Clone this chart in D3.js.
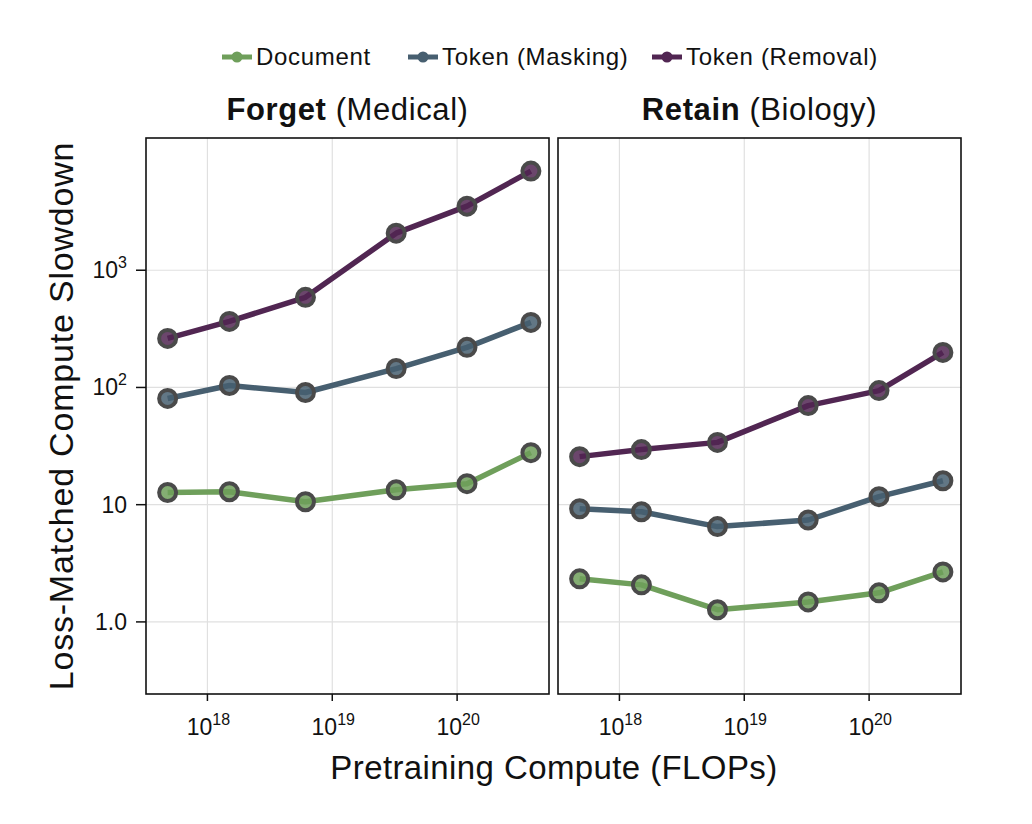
<!DOCTYPE html>
<html>
<head>
<meta charset="utf-8">
<script src="https://cdn.jsdelivr.net/npm/d3@7"></script>
<style>
  body { margin: 0; background: #fff; }
  text { font-family: "Liberation Sans", Arial, sans-serif; fill: #111; }
</style>
</head>
<body>
<svg id="chart" width="1032" height="824"></svg>
<script>
// compute budgets (FLOPs), same for both panels
var computeValues = [4.8e17, 1.5e18, 6.1e18, 3.25e19, 1.2e20, 3.9e20];

var seriesNames = ["Document", "Token (Masking)", "Token (Removal)"];
var seriesColors = ["#6f9f5b", "#475f70", "#512652"];

// Forget (Medical)
var forgetDocument = [12.7, 12.9, 10.6, 13.4, 15.1, 27.8];
var forgetMasking = [80.6, 104, 90.6, 145, 220, 359];
var forgetRemoval = [262, 366, 587, 2070, 3520, 7010];

// Retain (Biology)
var retainDocument = [2.33, 2.07, 1.27, 1.48, 1.77, 2.67];
var retainMasking = [9.24, 8.7, 6.5, 7.4, 11.7, 16.0];
var retainRemoval = [25.7, 29.5, 34.0, 70, 94, 199];

var xTicks = [1e18, 1e19, 1e20];
var xTickExp = ["18", "19", "20"];
var yTicks = [1, 10, 100, 1000];
var yTickLabels = [["1.0", ""], ["10", ""], ["10", "2"], ["10", "3"]];

var panels = [
    { bold: "Forget", rest: " (Medical)", series: [forgetDocument, forgetMasking, forgetRemoval], left: 146 },
    { bold: "Retain", rest: " (Biology)", series: [retainDocument, retainMasking, retainRemoval], left: 558 }
];

var panelWidth = 403;
var plotTop = 138, plotBottom = 694;

var svg = d3.select("#chart");

var yScale = d3.scaleLog()
    .domain([Math.pow(10, -0.615), Math.pow(10, 4.128)])
    .range([plotBottom, plotTop]);

panels.forEach(function (p, pi) {
    var xScale = d3.scaleLog()
        .domain([Math.pow(10, 17.508), Math.pow(10, 20.736)])
        .range([p.left, p.left + panelWidth]);

    var g = svg.append("g");

    // gridlines
    g.selectAll(".xgrid").data(xTicks).enter().append("line")
        .attr("x1", function (d) { return xScale(d); })
        .attr("x2", function (d) { return xScale(d); })
        .attr("y1", plotTop).attr("y2", plotBottom)
        .attr("stroke", "#e0e0e0").attr("stroke-width", 1.2);
    g.selectAll(".ygrid").data(yTicks).enter().append("line")
        .attr("x1", p.left).attr("x2", p.left + panelWidth)
        .attr("y1", function (d) { return yScale(d); })
        .attr("y2", function (d) { return yScale(d); })
        .attr("stroke", "#e0e0e0").attr("stroke-width", 1.2);

    // x ticks
    g.selectAll(".xtick").data(xTicks).enter().append("line")
        .attr("x1", function (d) { return xScale(d); })
        .attr("x2", function (d) { return xScale(d); })
        .attr("y1", plotBottom).attr("y2", plotBottom + 7)
        .attr("stroke", "#111").attr("stroke-width", 1.5);
    var xl = g.selectAll(".xlabel").data(xTicks).enter().append("text")
        .attr("x", function (d) { return xScale(d) + 1; })
        .attr("y", 735)
        .attr("text-anchor", "middle")
        .style("font-size", "23px");
    xl.append("tspan").text("10");
    xl.append("tspan").attr("dy", -10).style("font-size", "16px")
        .text(function (d, i) { return xTickExp[i]; });

    // y ticks only on left panel
    if (pi === 0) {
        g.selectAll(".ytick").data(yTicks).enter().append("line")
            .attr("x1", p.left - 10).attr("x2", p.left)
            .attr("y1", function (d) { return yScale(d); })
            .attr("y2", function (d) { return yScale(d); })
            .attr("stroke", "#111").attr("stroke-width", 1.5);
        var yl = g.selectAll(".ylabel").data(yTicks).enter().append("text")
            .attr("x", p.left - 19)
            .attr("y", function (d) { return yScale(d) + 8; })
            .attr("text-anchor", "end")
            .style("font-size", "23px");
        yl.append("tspan").text(function (d, i) { return yTickLabels[i][0]; });
        yl.append("tspan").attr("dy", -10).style("font-size", "16px")
            .text(function (d, i) { return yTickLabels[i][1]; });
    }

    // lines + markers
    var line = d3.line()
        .x(function (d, i) { return xScale(computeValues[i]); })
        .y(function (d) { return yScale(d); });

    p.series.forEach(function (vals, si) {
        g.append("path")
            .attr("d", line(vals))
            .attr("fill", "none")
            .attr("stroke", seriesColors[si])
            .attr("stroke-width", 5.5)
            .attr("stroke-linejoin", "round");
    });
    p.series.forEach(function (vals, si) {
        g.selectAll(".pt" + si).data(vals).enter().append("circle")
            .attr("cx", function (d, i) { return xScale(computeValues[i]); })
            .attr("cy", function (d) { return yScale(d); })
            .attr("r", 8.5)
            .attr("fill", seriesColors[si])
            .attr("fill-opacity", 0.85)
            .attr("stroke", "#4a4a4a")
            .attr("stroke-width", 4);
    });

    // frame
    g.append("rect")
        .attr("x", p.left).attr("y", plotTop)
        .attr("width", panelWidth).attr("height", plotBottom - plotTop)
        .attr("fill", "none").attr("stroke", "#111").attr("stroke-width", 1.6);

    // title
    var t = g.append("text")
        .attr("x", p.left + panelWidth / 2)
        .attr("y", 120)
        .attr("text-anchor", "middle")
        .style("font-size", "31px")
        .style("letter-spacing", "0.6px");
    t.append("tspan").style("font-weight", "bold").text(p.bold);
    t.append("tspan").text(p.rest);
});

// axis titles
svg.append("text")
    .attr("transform", "translate(73," + ((plotTop + plotBottom) / 2) + ") rotate(-90)")
    .attr("text-anchor", "middle")
    .style("font-size", "34px")
    .style("letter-spacing", "0.8px")
    .text("Loss-Matched Compute Slowdown");

svg.append("text")
    .attr("x", 554).attr("y", 779)
    .attr("text-anchor", "middle")
    .style("font-size", "33px")
    .style("letter-spacing", "0.4px")
    .text("Pretraining Compute (FLOPs)");

// legend
var legendX = [222, 408, 652];
var legend = svg.selectAll(".legend").data(seriesNames).enter().append("g")
    .attr("transform", function (d, i) { return "translate(" + legendX[i] + ",57)"; });
legend.append("line")
    .attr("x1", 0).attr("x2", 30).attr("y1", 0).attr("y2", 0)
    .attr("stroke", function (d, i) { return seriesColors[i]; })
    .attr("stroke-width", 5);
legend.append("circle")
    .attr("cx", 15).attr("cy", 0).attr("r", 5.5)
    .attr("fill", function (d, i) { return seriesColors[i]; });
legend.append("text")
    .attr("x", 34).attr("y", 8)
    .style("font-size", "24px")
    .style("letter-spacing", "0.7px")
    .text(function (d) { return d; });
</script>
</body>
</html>
